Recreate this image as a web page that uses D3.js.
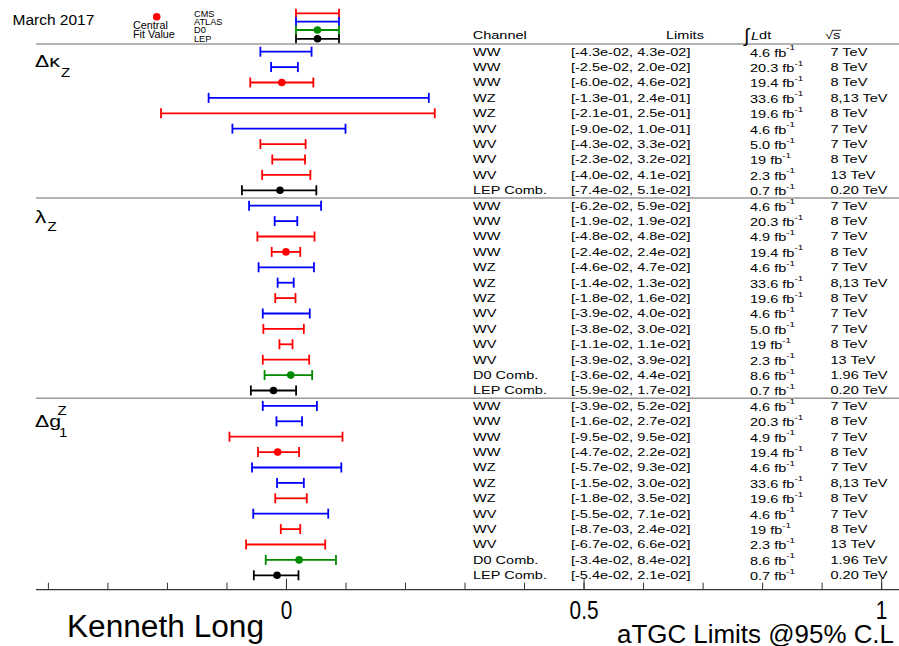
<!DOCTYPE html>
<html>
<head>
<meta charset="utf-8">
<script src="https://cdn.jsdelivr.net/npm/d3@7/dist/d3.min.js"></script>
<style>
body{margin:0;background:#fff;}
svg{display:block;font-family:"Liberation Sans",Arial,Helvetica,sans-serif;}
</style>
</head>
<body>
<div id="chart"></div>
<script>
// aTGC limits summary, three parameter blocks stacked top to bottom

var sectionNames = ["dk", "lz", "dg1"];
var sectionSizes = [10, 13, 12];

var channels = [
	"WW","WW","WW","WZ","WZ","WV","WV","WV","WV","LEP Comb.",
	"WW","WW","WW","WW","WZ","WZ","WZ","WV","WV","WV","WV","D0 Comb.","LEP Comb.",
	"WW","WW","WW","WW","WZ","WZ","WZ","WV","WV","WV","D0 Comb.","LEP Comb."
];
var lowLimits = [
	-0.043,-0.025,-0.060,-0.13,-0.21,-0.090,-0.043,-0.023,-0.040,-0.074,
	-0.062,-0.019,-0.048,-0.024,-0.046,-0.014,-0.018,-0.039,-0.038,-0.011,-0.039,-0.036,-0.059,
	-0.039,-0.016,-0.095,-0.047,-0.057,-0.015,-0.018,-0.055,-0.0087,-0.067,-0.034,-0.054
];
var highLimits = [
	0.043,0.020,0.046,0.24,0.25,0.10,0.033,0.032,0.041,0.051,
	0.059,0.019,0.048,0.024,0.047,0.013,0.016,0.040,0.030,0.011,0.039,0.044,0.017,
	0.052,0.027,0.095,0.022,0.093,0.030,0.035,0.071,0.024,0.066,0.084,0.021
];
var centralValues = [
	null,null,-0.007,null,null,null,null,null,null,-0.010,
	null,null,null,0.0,null,null,null,null,null,null,null,0.008,-0.021,
	null,null,null,-0.014,null,null,null,null,null,null,0.022,-0.015
];
var experiments = [
	"ATLAS","ATLAS","CMS","ATLAS","CMS","ATLAS","CMS","CMS","CMS","LEP",
	"ATLAS","ATLAS","CMS","CMS","ATLAS","ATLAS","CMS","ATLAS","CMS","CMS","CMS","D0","LEP",
	"ATLAS","ATLAS","CMS","CMS","ATLAS","ATLAS","CMS","ATLAS","CMS","CMS","D0","LEP"
];
var lumis = [
	"4.6","20.3","19.4","33.6","19.6","4.6","5.0","19","2.3","0.7",
	"4.6","20.3","4.9","19.4","4.6","33.6","19.6","4.6","5.0","19","2.3","8.6","0.7",
	"4.6","20.3","4.9","19.4","4.6","33.6","19.6","4.6","19","2.3","8.6","0.7"
];
var energies = [
	"7 TeV","8 TeV","8 TeV","8,13 TeV","8 TeV","7 TeV","7 TeV","8 TeV","13 TeV","0.20 TeV",
	"7 TeV","8 TeV","7 TeV","8 TeV","7 TeV","8,13 TeV","8 TeV","7 TeV","7 TeV","8 TeV","13 TeV","1.96 TeV","0.20 TeV",
	"7 TeV","8 TeV","7 TeV","8 TeV","7 TeV","8,13 TeV","8 TeV","7 TeV","8 TeV","13 TeV","1.96 TeV","0.20 TeV"
];
var legendNames = ["CMS","ATLAS","D0","LEP"];
var legendColors = ["#ff0000","#0000ff","#008a00","#000000"];
var axisMinor = d3.range(-4, 11).map(function(d){ return d / 10; });
var axisMajor = [0, 0.5, 1];
var axisLabels = ["0", "0.5", "1"];

var W = 899, H = 646;
var stretch = 1.32;

var svg = d3.select("#chart").append("svg")
	.attr("width", W)
	.attr("height", H);

var x = d3.scaleLinear().domain([-0.42, 1.03]).range([36, 899]);
var y = d3.scaleLinear().domain([0, channels.length - 1]).range([51.7, 575.3]);
var color = d3.scaleOrdinal().domain(legendNames).range(legendColors);

// separators: under the header and between blocks
var sepRows = [-0.5];
var acc = 0;
sectionSizes.forEach(function(n, i){
	acc += n;
	if (i < sectionSizes.length - 1) sepRows.push(acc - 0.5);
});
svg.append("g").selectAll("line")
	.data(sepRows)
	.enter()
	.append("line")
	.attr("x1", 36).attr("x2", W)
	.attr("y1", function(d){ return y(d); })
	.attr("y2", function(d){ return y(d); })
	.style("stroke", "#9a9a9a")
	.style("stroke-width", 1.6);

// error bars
var rows = channels.map(function(c, i){
	return {i: i, lo: lowLimits[i], hi: highLimits[i], c: centralValues[i], exp: experiments[i]};
});
var bars = svg.append("g").attr("id", "bars");
var capH = 5;
var rowG = bars.selectAll("g").data(rows).enter().append("g")
	.style("stroke", function(d){ return color(d.exp); })
	.style("stroke-width", 1.8);
rowG.append("line")
	.attr("x1", function(d){ return x(d.lo); })
	.attr("x2", function(d){ return x(d.hi); })
	.attr("y1", function(d){ return y(d.i); })
	.attr("y2", function(d){ return y(d.i); });
rowG.append("line")
	.attr("x1", function(d){ return x(d.lo); })
	.attr("x2", function(d){ return x(d.lo); })
	.attr("y1", function(d){ return y(d.i) - capH; })
	.attr("y2", function(d){ return y(d.i) + capH; });
rowG.append("line")
	.attr("x1", function(d){ return x(d.hi); })
	.attr("x2", function(d){ return x(d.hi); })
	.attr("y1", function(d){ return y(d.i) - capH; })
	.attr("y2", function(d){ return y(d.i) + capH; });
bars.selectAll("circle")
	.data(rows.filter(function(d){ return d.c !== null; }))
	.enter()
	.append("circle")
	.attr("cx", function(d){ return x(d.c); })
	.attr("cy", function(d){ return y(d.i); })
	.attr("r", 3.8)
	.style("fill", function(d){ return color(d.exp); });

// table text, drawn horizontally stretched like the original
function stext(parent, px, py, str, size, anchor) {
	return parent.append("text")
		.attr("transform", "translate(" + px + "," + py + ") scale(" + stretch + ",1)")
		.attr("dominant-baseline", "central")
		.attr("text-anchor", anchor || "start")
		.style("font-size", size + "px")
		.text(str);
}
function fmtLim(v) {
	var s = v.toExponential(1);
	return s.replace(/e([+-])(\d)$/, "e$10$2");
}
var table = svg.append("g").attr("id", "table");
var colX = [473, 571, 750, 830.5];
var fs = 11;

stext(table, 472.7, y(-1) - 1, "Channel", fs);
stext(table, 666, y(-1) - 1, "Limits", fs);
table.append("text").attr("x", 744).attr("y", y(-1) + 6)
	.style("font-size", "19px").text("\u222B");
table.append("text")
	.attr("transform", "translate(751," + (y(-1) - 1) + ") scale(" + stretch + ",1)")
	.attr("dominant-baseline", "central")
	.style("font-size", fs + "px")
	.html('<tspan font-style="italic">L</tspan>dt');
stext(table, 825, y(-1) - 1, "\u221As", fs);
table.append("line").attr("x1", 832).attr("x2", 841)
	.attr("y1", y(-1) - 6).attr("y2", y(-1) - 6)
	.style("stroke", "#000").style("stroke-width", 0.8);

channels.forEach(function(c, i){
	stext(table, colX[0], y(i), c, fs);
	stext(table, colX[1], y(i), "[" + fmtLim(lowLimits[i]) + ", " + fmtLim(highLimits[i]) + "]", fs);
	var t = stext(table, colX[2], y(i) + 1, lumis[i] + " fb", fs);
	t.append("tspan").attr("dy", -5).style("font-size", "7.5px").text("-1");
	stext(table, colX[3], y(i), energies[i], fs);
});

// block labels
var labels = svg.append("g").attr("id", "labels");
var starts = [0, sectionSizes[0], sectionSizes[0] + sectionSizes[1]];
function ltext(px, py, str, size) {
	return labels.append("text")
		.attr("transform", "translate(" + px + "," + py + ") scale(1.25,1)")
		.style("font-size", size + "px")
		.text(str);
}
ltext(35, y(starts[0]) + 15.5, "\u0394\u03BA", 17);
ltext(61, y(starts[0]) + 25.5, "Z", 12);
ltext(35, y(starts[1]) + 17.5, "\u03BB", 18);
ltext(47.5, y(starts[1]) + 25, "Z", 12);
ltext(35, y(starts[2]) + 21, "\u0394g", 17);
ltext(57.5, y(starts[2]) + 9, "Z", 12);
ltext(59, y(starts[2]) + 31, "1", 12);

// legend
var leg = svg.append("g").attr("id", "legend");
var legY = [13.3, 21.6, 30, 38.8];
legendNames.forEach(function(n, i){
	var g = leg.append("g").style("stroke", legendColors[i]).style("stroke-width", 1.8);
	g.append("line").attr("x1", 296).attr("x2", 339).attr("y1", legY[i]).attr("y2", legY[i]);
	g.append("line").attr("x1", 296).attr("x2", 296).attr("y1", legY[i] - 4.5).attr("y2", legY[i] + 4.5);
	g.append("line").attr("x1", 339).attr("x2", 339).attr("y1", legY[i] - 4.5).attr("y2", legY[i] + 4.5);
	if (i >= 2) {
		leg.append("circle").attr("cx", 317.5).attr("cy", legY[i]).attr("r", 3.8).style("fill", legendColors[i]);
	}
	leg.append("text").attr("x", 194).attr("y", legY[i] + 3.3)
		.style("font-size", "9.2px").text(n);
});
leg.append("circle").attr("cx", 156.7).attr("cy", 16.7).attr("r", 3.8).style("fill", "#ff0000");
leg.append("text").attr("x", 133).attr("y", 29.3).style("font-size", "10.8px").text("Central");
leg.append("text").attr("x", 133).attr("y", 38).style("font-size", "10.8px").text("Fit Value");

svg.append("text").attr("x", 12.5).attr("y", 25).style("font-size", "15.5px").text("March 2017");

// x axis at the bottom, ticks pointing up
var axisY = 589.7;
var minorAxis = d3.axisBottom(x).tickValues(axisMinor).tickSize(-7).tickFormat("");
var majorAxis = d3.axisBottom(x).tickValues(axisMajor).tickSize(-11).tickPadding(8)
	.tickFormat(function(d, i){ return axisLabels[i]; });
svg.append("g").attr("transform", "translate(0," + axisY + ")").call(minorAxis)
	.call(function(g){ g.select(".domain").remove(); })
	.selectAll("line").style("stroke", "#333");
var mg = svg.append("g").attr("transform", "translate(0," + axisY + ")").call(majorAxis);
mg.select(".domain").remove();
mg.selectAll("line").style("stroke", "#333");
mg.selectAll("text")
	.attr("y", 29)
	.attr("dy", 0)
	.attr("transform", "scale(0.8,1)")
	.style("font-size", "26px")
	.style("font-family", "'Liberation Sans', Arial, sans-serif")
	.style("fill", "#000");
svg.append("line").attr("x1", 36).attr("x2", W).attr("y1", axisY).attr("y2", axisY)
	.style("stroke", "#333").style("stroke-width", 1.2);

svg.append("text").attr("x", 67).attr("y", 637)
	.attr("textLength", 197).attr("lengthAdjust", "spacingAndGlyphs")
	.style("font-size", "31px").text("Kenneth Long");
svg.append("text").attr("x", 617).attr("y", 643)
	.attr("textLength", 277).attr("lengthAdjust", "spacingAndGlyphs")
	.style("font-size", "25.5px").text("aTGC Limits @95% C.L");
</script>
</body>
</html>
